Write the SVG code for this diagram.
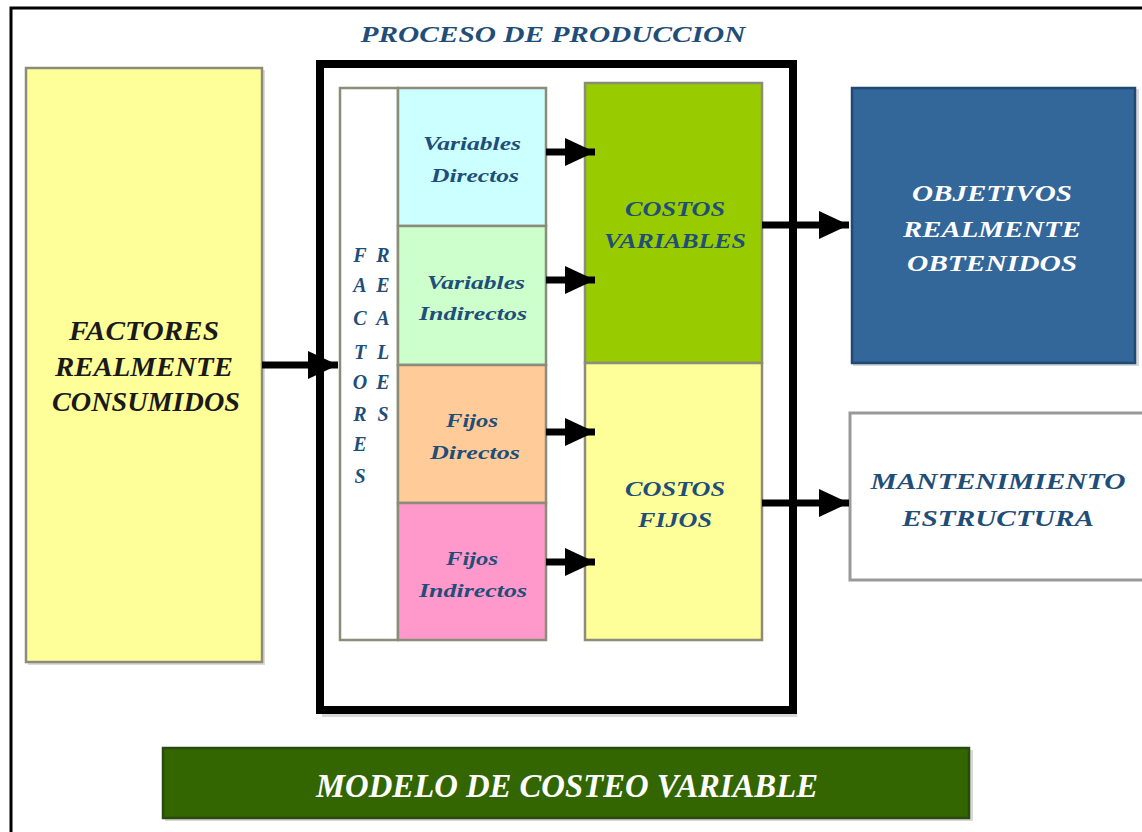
<svg xmlns="http://www.w3.org/2000/svg" width="1142" height="832" viewBox="0 0 1142 832">
<style>
  .t { font-family: "Liberation Serif", "Times New Roman", serif; font-weight: bold; font-style: italic; text-anchor: middle; }
  .blue { fill: #1f4e79; }
  .box { stroke: #8c8c7a; stroke-width: 2.5; }
  .shadow { fill: #d9d9d9; }
  .conn { stroke: #000; stroke-width: 7; fill: none; }
</style>
<defs>
  <marker id="ah" markerUnits="userSpaceOnUse" markerWidth="30" markerHeight="28" refX="30" refY="14" orient="auto">
    <path d="M0,0 L30,14 L0,28 Z" fill="#000"/>
  </marker>
</defs>
<rect x="0" y="0" width="1142" height="832" fill="#fff"/>
<!-- outer frame -->
<rect x="11" y="8" width="1160" height="840" fill="none" stroke="#000" stroke-width="3"/>

<g id="factores-consumidos">
  <rect class="shadow" x="28" y="70" width="237" height="595"/>
  <rect class="box" x="26" y="68" width="236" height="594" fill="#ffff99"/>
  <text class="t" font-size="27" fill="#1a1a1a"><tspan x="144" y="340" textLength="150" lengthAdjust="spacingAndGlyphs">FACTORES</tspan><tspan x="144" y="376" textLength="178" lengthAdjust="spacingAndGlyphs">REALMENTE</tspan><tspan x="146" y="411" textLength="188" lengthAdjust="spacingAndGlyphs">CONSUMIDOS</tspan></text>
</g>

<g id="proceso-produccion">
  <text class="t blue" font-size="23" x="553" y="42" textLength="385" lengthAdjust="spacingAndGlyphs">PROCESO DE PRODUCCION</text>
  <rect x="322" y="67" width="475" height="650" fill="#d9d9d9"/>
  <rect x="320" y="64" width="473" height="646" fill="#fff" stroke="#000" stroke-width="8"/>
</g>

<g id="factores-reales">
  <rect class="box" x="340" y="88" width="58" height="552" fill="#fff" stroke="#999"/>
  <g class="t blue" font-size="20">
    <text x="360" y="262">F</text><text x="383" y="262">R</text>
    <text x="360" y="292">A</text><text x="383" y="292">E</text>
    <text x="360" y="325">C</text><text x="383" y="325">A</text>
    <text x="360" y="359">T</text><text x="383" y="359">L</text>
    <text x="360" y="389">O</text><text x="383" y="389">E</text>
    <text x="360" y="421">R</text><text x="383" y="421">S</text>
    <text x="360" y="451">E</text>
    <text x="360" y="483">S</text>
  </g>
</g>

<g id="variables-directos">
  <rect class="box" x="398" y="88" width="148" height="138" fill="#ccffff" stroke="#7f8a8a"/>
  <text class="t blue" font-size="19"><tspan x="472" y="150" textLength="98" lengthAdjust="spacingAndGlyphs">Variables</tspan><tspan x="475" y="182" textLength="88" lengthAdjust="spacingAndGlyphs">Directos</tspan></text>
</g>
<g id="variables-indirectos">
  <rect class="box" x="398" y="226" width="148" height="139" fill="#ccffcc" stroke="#7f8a7f"/>
  <text class="t blue" font-size="19"><tspan x="476" y="289" textLength="98" lengthAdjust="spacingAndGlyphs">Variables</tspan><tspan x="473" y="320" textLength="108" lengthAdjust="spacingAndGlyphs">Indirectos</tspan></text>
</g>
<g id="fijos-directos">
  <rect class="box" x="398" y="365" width="148" height="138" fill="#ffcc99" stroke="#a08060"/>
  <text class="t blue" font-size="19"><tspan x="472" y="427" textLength="52" lengthAdjust="spacingAndGlyphs">Fijos</tspan><tspan x="475" y="459" textLength="90" lengthAdjust="spacingAndGlyphs">Directos</tspan></text>
</g>
<g id="fijos-indirectos">
  <rect class="box" x="398" y="503" width="148" height="137" fill="#ff99cc" stroke="#a0607a"/>
  <text class="t blue" font-size="19"><tspan x="472" y="565" textLength="52" lengthAdjust="spacingAndGlyphs">Fijos</tspan><tspan x="473" y="597" textLength="108" lengthAdjust="spacingAndGlyphs">Indirectos</tspan></text>
</g>

<g id="costos-variables">
  <rect class="box" x="585" y="83" width="177" height="280" fill="#99cc00" stroke="#7a8a40"/>
  <text class="t blue" font-size="20"><tspan x="675" y="216" textLength="100" lengthAdjust="spacingAndGlyphs">COSTOS</tspan><tspan x="675" y="248" textLength="142" lengthAdjust="spacingAndGlyphs">VARIABLES</tspan></text>
</g>
<g id="costos-fijos">
  <rect class="box" x="585" y="363" width="177" height="277" fill="#ffff99" stroke="#8c8c60"/>
  <text class="t blue" font-size="20"><tspan x="675" y="496" textLength="100" lengthAdjust="spacingAndGlyphs">COSTOS</tspan><tspan x="675" y="527" textLength="74" lengthAdjust="spacingAndGlyphs">FIJOS</tspan></text>
</g>

<g id="objetivos-obtenidos">
  <rect class="shadow" x="853" y="89" width="286" height="277"/>
  <rect x="852" y="88" width="283" height="275" fill="#336699" stroke="#1f4a75" stroke-width="2.5"/>
  <text class="t" font-size="24" fill="#fff"><tspan x="992" y="201" textLength="160" lengthAdjust="spacingAndGlyphs">OBJETIVOS</tspan><tspan x="992" y="237" textLength="178" lengthAdjust="spacingAndGlyphs">REALMENTE</tspan><tspan x="992" y="271" textLength="170" lengthAdjust="spacingAndGlyphs">OBTENIDOS</tspan></text>
</g>

<g id="mantenimiento-estructura">
  <rect x="850" y="413" width="300" height="167" fill="#fff" stroke="#999" stroke-width="3"/>
  <text class="t blue" font-size="23"><tspan x="998" y="489" textLength="255" lengthAdjust="spacingAndGlyphs">MANTENIMIENTO</tspan><tspan x="998" y="526" textLength="192" lengthAdjust="spacingAndGlyphs">ESTRUCTURA</tspan></text>
</g>

<g id="modelo-costeo-variable">
  <rect class="shadow" x="165" y="750" width="808" height="71"/>
  <rect x="163" y="748" width="806" height="70" fill="#336600" stroke="#2a4a10" stroke-width="2.5"/>
  <text class="t" font-size="34" fill="#fff" x="567" y="797" textLength="502" lengthAdjust="spacingAndGlyphs">MODELO DE COSTEO VARIABLE</text>
</g>

<g id="connectors">
  <line class="conn" x1="262" y1="365" x2="338" y2="365" marker-end="url(#ah)"/>
  <line class="conn" x1="546" y1="152" x2="595" y2="152" marker-end="url(#ah)"/>
  <line class="conn" x1="546" y1="280" x2="595" y2="280" marker-end="url(#ah)"/>
  <line class="conn" x1="546" y1="432" x2="595" y2="432" marker-end="url(#ah)"/>
  <line class="conn" x1="546" y1="562" x2="595" y2="562" marker-end="url(#ah)"/>
  <line class="conn" x1="762" y1="225" x2="849" y2="225" marker-end="url(#ah)"/>
  <line class="conn" x1="762" y1="503" x2="849" y2="503" marker-end="url(#ah)"/>
</g>
</svg>
